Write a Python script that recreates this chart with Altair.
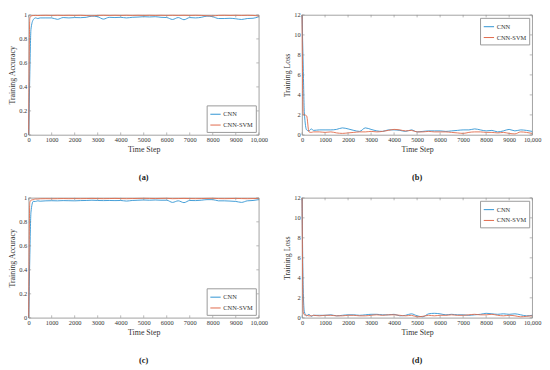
import altair as alt
import pandas as pd

steps = [0, 50, 100, 200, 300, 400, 500, 750, 1000, 1250, 1500, 1750, 2000, 2250, 2500,
         2750, 3000, 3250, 3500, 3750, 4000, 4250, 4500, 4750, 5000, 5250, 5500, 5750,
         6000, 6250, 6500, 6750, 7000, 7250, 7500, 7750, 8000, 8250, 8500, 8750, 9000,
         9250, 9500, 9750, 10000]

a_cnn = [0.0, 0.5, 0.88, 0.96, 0.975, 0.97, 0.975, 0.975, 0.975, 0.963, 0.978, 0.975, 0.978,
         0.977, 0.98, 0.99, 0.985, 0.965, 0.98, 0.978, 0.98, 0.975, 0.98, 0.982, 0.985, 0.983,
         0.985, 0.98, 0.978, 0.962, 0.978, 0.96, 0.978, 0.975, 0.98, 0.99, 0.985, 0.97, 0.97,
         0.972, 0.968, 0.962, 0.97, 0.972, 0.985]
a_svm = [0.0, 0.97, 0.99, 0.995, 0.996, 0.995, 0.996, 0.997, 0.996, 0.997, 0.996, 0.997, 0.996,
         0.997, 0.995, 0.992, 0.996, 0.997, 0.996, 0.997, 0.996, 0.997, 0.996, 0.997, 0.996,
         0.997, 0.996, 0.997, 0.996, 0.997, 0.996, 0.997, 0.996, 0.997, 0.996, 0.993, 0.992,
         0.996, 0.997, 0.996, 0.997, 0.996, 0.997, 0.996, 0.99]

b_cnn = [12, 7, 2.2, 0.5, 0.4, 0.6, 0.45, 0.5, 0.5, 0.5, 0.55, 0.7, 0.6, 0.45, 0.35, 0.7, 0.55,
         0.4, 0.35, 0.5, 0.5, 0.45, 0.35, 0.5, 0.3, 0.35, 0.4, 0.4, 0.4, 0.35, 0.4, 0.45, 0.5,
         0.5, 0.6, 0.5, 0.4, 0.45, 0.3, 0.4, 0.55, 0.4, 0.5, 0.45, 0.35]
b_svm = [12, 2.0, 2.0, 1.9, 0.3, 0.25, 0.3, 0.3, 0.25, 0.3, 0.2, 0.15, 0.2, 0.25, 0.3, 0.3, 0.35,
         0.3, 0.35, 0.45, 0.55, 0.5, 0.4, 0.45, 0.3, 0.3, 0.35, 0.3, 0.3, 0.3, 0.25, 0.2, 0.15,
         0.25, 0.3, 0.3, 0.25, 0.25, 0.2, 0.25, 0.15, 0.1, 0.3, 0.25, 0.15]

c_cnn = [0.0, 0.5, 0.88, 0.97, 0.97, 0.975, 0.972, 0.975, 0.976, 0.975, 0.977, 0.976, 0.975,
         0.977, 0.978, 0.98, 0.978, 0.977, 0.978, 0.977, 0.978, 0.973, 0.978, 0.98, 0.982,
         0.98, 0.982, 0.98, 0.98, 0.962, 0.975, 0.96, 0.978, 0.977, 0.98, 0.985, 0.985, 0.975,
         0.975, 0.973, 0.97, 0.962, 0.975, 0.978, 0.985]
c_svm = [0.0, 0.96, 0.98, 0.985, 0.99, 0.99, 0.992, 0.993, 0.992, 0.993, 0.994, 0.993, 0.994,
         0.993, 0.994, 0.995, 0.994, 0.993, 0.994, 0.995, 0.994, 0.993, 0.994, 0.995, 0.996,
         0.995, 0.994, 0.995, 0.996, 0.993, 0.994, 0.995, 0.994, 0.993, 0.994, 0.995, 0.996,
         0.994, 0.993, 0.994, 0.995, 0.994, 0.993, 0.994, 0.995]

d_cnn = [12, 3, 0.6, 0.2, 0.35, 0.15, 0.25, 0.25, 0.25, 0.3, 0.2, 0.25, 0.3, 0.3, 0.25, 0.3,
         0.35, 0.35, 0.3, 0.3, 0.35, 0.2, 0.25, 0.4, 0.2, 0.1, 0.4, 0.45, 0.4, 0.3, 0.35, 0.3,
         0.3, 0.25, 0.3, 0.35, 0.45, 0.4, 0.35, 0.4, 0.35, 0.4, 0.3, 0.2, 0.25]
d_svm = [12, 0.6, 0.3, 0.25, 0.2, 0.2, 0.25, 0.2, 0.25, 0.25, 0.2, 0.2, 0.25, 0.25, 0.2, 0.2,
         0.25, 0.3, 0.25, 0.3, 0.3, 0.25, 0.2, 0.25, 0.1, 0.15, 0.25, 0.2, 0.25, 0.25, 0.3,
         0.25, 0.25, 0.3, 0.35, 0.3, 0.3, 0.35, 0.25, 0.2, 0.25, 0.2, 0.1, 0.15, 0.2]

series_names = ["CNN", "CNN-SVM"]
x_ticks = [0, 1000, 2000, 3000, 4000, 5000, 6000, 7000, 8000, 9000, 10000]
acc_ticks = [0, 0.2, 0.4, 0.6, 0.8, 1]
loss_ticks = [0, 2, 4, 6, 8, 10, 12]

FONT = "Liberation Serif"
W, H = 234, 122
BLUE, ORANGE = "#2E93D3", "#E0694A"
FRAME = "#8a8a8a"


def make_df(cnn, svm):
    rows = []
    for name, vals in zip(series_names, [cnn, svm]):
        for s, v in zip(steps, vals):
            rows.append({"step": s, "value": v, "series": name})
    return pd.DataFrame(rows)


def panel(cnn, svm, ytitle, yticks, legend_orient, label):
    df = make_df(cnn, svm)
    ymax = yticks[-1]
    xs = alt.Scale(domain=[0, 10000], nice=False)
    ys = alt.Scale(domain=[0, ymax], nice=False)
    common = dict(ticks=False, domain=False, grid=False, labelOverlap=False, labelBound=False,
                  labelFontSize=6.5, labelPadding=2, titleFontSize=8, labelFont=FONT,
                  titleFont=FONT, labelColor="#333", titleColor="#333",
                  titleFontWeight="normal", titlePadding=2)
    xaxis = alt.Axis(values=x_ticks, labelFlush=False,
                     labelExpr="datum.value == 10000 ? '10,000' : datum.value", **common)
    yaxis = alt.Axis(values=yticks, format="~g", **common)
    X = alt.X("step:Q", scale=xs, title="Time Step", axis=xaxis)
    Y = alt.Y("value:Q", scale=ys, title=ytitle, axis=yaxis)
    lines = alt.Chart(df).mark_line(strokeWidth=0.9, interpolate="monotone").encode(
        x=X, y=Y,
        color=alt.Color("series:N", scale=alt.Scale(domain=series_names, range=[BLUE, ORANGE]),
                        legend=alt.Legend(title=None, orient=legend_orient, offset=3,
                                          symbolType="stroke", symbolStrokeWidth=1,
                                          symbolSize=110, labelFontSize=6.5, labelFont=FONT,
                                          labelColor="#333", fillColor="white",
                                          strokeColor="#999", padding=3, rowPadding=1,
                                          symbolOffset=0, labelOffset=2)),
    )
    xt = pd.DataFrame({"step": x_ticks})
    yt = pd.DataFrame({"value": yticks})
    tk = dict(color=FRAME, strokeWidth=0.6)
    bot = alt.Chart(xt).mark_rule(**tk).encode(x=X, y=alt.value(H), y2=alt.value(H - 2.5))
    top = alt.Chart(xt).mark_rule(**tk).encode(x=X, y=alt.value(0), y2=alt.value(2.5))
    lft = alt.Chart(yt).mark_rule(**tk).encode(y=Y, x=alt.value(0), x2=alt.value(2.5))
    rgt = alt.Chart(yt).mark_rule(**tk).encode(y=Y, x=alt.value(W), x2=alt.value(W - 2.5))
    return alt.layer(lines, bot, top, lft, rgt).properties(
        width=W, height=H,
        title=alt.TitleParams(label, orient="bottom", fontSize=8.5, fontWeight="bold",
                              font=FONT, color="#222", offset=20),
    )


pa = panel(a_cnn, a_svm, "Training Accuracy", acc_ticks, "bottom-right", "(a)")
pb = panel(b_cnn, b_svm, "Training Loss", loss_ticks, "top-right", "(b)")
pc = panel(c_cnn, c_svm, "Training Accuracy", acc_ticks, "bottom-right", "(c)")
pd_ = panel(d_cnn, d_svm, "Training Loss", loss_ticks, "top-right", "(d)")

row1 = alt.hconcat(pa, pb, spacing=15).resolve_scale(color="independent").resolve_legend(color="independent")
row2 = alt.hconcat(pc, pd_, spacing=15).resolve_scale(color="independent").resolve_legend(color="independent")
chart = alt.vconcat(row1, row2, spacing=12).resolve_scale(color="independent").resolve_legend(
    color="independent").configure_view(stroke=FRAME, strokeWidth=0.8).properties(
    padding={"left": 0, "top": 0, "right": 0, "bottom": 0})

chart.save("out.html", embed_options={"renderer": "svg", "actions": False})
